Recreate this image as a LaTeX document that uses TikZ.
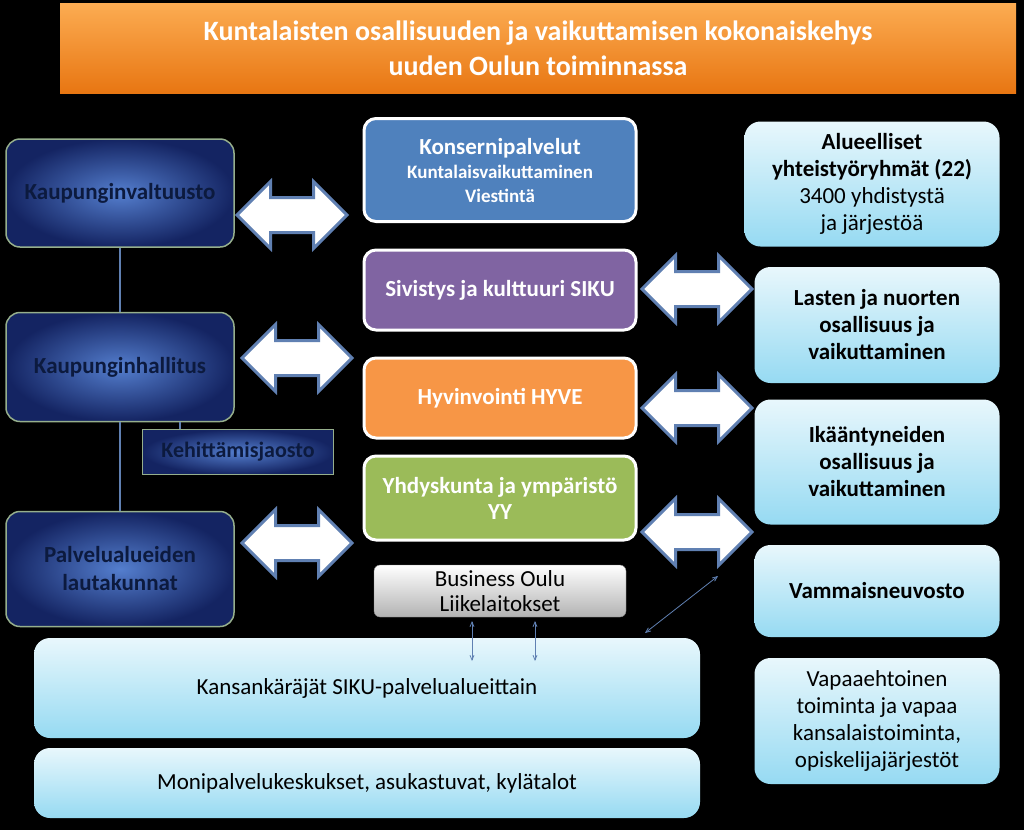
\documentclass[tikz,border=0pt]{standalone}
\usepackage{fontspec}
\setmainfont{Carlito}
\usepackage{tikz}
\usetikzlibrary{%
  arrows
 ,calc
 ,shapes.arrows
}
\definecolor{navytext}{RGB}{12,26,62}
\definecolor{navyin}{RGB}{84,126,206}
\definecolor{navyout}{RGB}{20,36,98}
\definecolor{navyedge}{RGB}{150,175,140}
\definecolor{skytop}{RGB}{232,247,252}
\definecolor{skybot}{RGB}{150,218,242}
\definecolor{arrline}{RGB}{96,128,178}
\definecolor{konblue}{RGB}{79,129,189}
\definecolor{sikupurple}{RGB}{128,100,162}
\definecolor{hyveorange}{RGB}{247,150,70}
\definecolor{yygreen}{RGB}{155,187,89}
\definecolor{titletop}{RGB}{252,172,82}
\definecolor{titlebot}{RGB}{232,118,18}
\tikzstyle{dia}=[x=1pt,y=-1pt,inner sep=0pt,align=center]
\tikzstyle{titlebox}=[top color=titletop,bottom color=titlebot,minimum width=956pt,minimum height=90pt,text=white,font=\bfseries\fontsize{28}{35}\selectfont]
\tikzstyle{hall}=[rounded corners=14pt,draw=navyedge,line width=1.5pt,inner color=navyin,outer color=navyout,minimum width=228pt,text=navytext,font=\bfseries\fontsize{23}{28}\selectfont]
\tikzstyle{toimi}=[rounded corners=12pt,draw=white,line width=3pt,minimum width=272pt,text=white,font=\bfseries\fontsize{23}{26}\selectfont]
\tikzstyle{sky}=[rounded corners=16pt,top color=skytop,bottom color=skybot,text=black,font=\fontsize{23}{27}\selectfont]
\tikzstyle{dbl}=[double arrow,draw=arrline,line width=3pt,fill=white,minimum height=110pt,inner xsep=0pt,inner ysep=16pt,double arrow head extend=16pt]
\tikzstyle{conn}=[draw=arrline,line width=2pt]
\tikzstyle{ohut}=[draw=arrline,line width=0.8pt,<->,>=angle 45]

\begin{document}
\begin{tikzpicture}[dia]
  \useasboundingbox (0,0) rectangle (1024,830);
  \fill[black] (0,0) rectangle (1024,830);
  \node[titlebox] (otsikko) at (538,48) {Kuntalaisten osallisuuden ja vaikuttamisen kokonaiskehys\\uuden Oulun toiminnassa};
% hallinto
  \node[hall,minimum height=108pt] (valtuusto) at (120,193) {Kaupunginvaltuusto};
  \node[hall,minimum height=109pt] (hallitus) at (120,367) {Kaupunginhallitus};
  \node[hall,rounded corners=0pt,minimum width=191pt,minimum height=45pt,font=\bfseries\fontsize{22}{24}\selectfont] (jaosto) at (238,452) {Kehittämisjaosto};
  \node[hall,minimum height=115pt] (lautakunnat) at (120,569) {Palvelualueiden\\lautakunnat};
  \coordinate (jaostoliitos) at (180,422);
  \draw[conn] (valtuusto.south) -- (hallitus.north);
  \draw[conn] (hallitus.south) -- (lautakunnat.north);
  \draw[conn] (jaostoliitos) -- (jaostoliitos |- jaosto.north);
% palvelualueet
  \node[toimi,fill=konblue,minimum height=103pt,font=\bfseries\fontsize{23}{24}\selectfont] (konserni) at (500,170) {Konsernipalvelut\\{\fontsize{19}{24}\selectfont Kuntalaisvaikuttaminen}\\{\fontsize{19}{24}\selectfont Viestintä}};
  \node[toimi,fill=sikupurple,minimum height=80pt] (siku) at (500,290) {Sivistys ja kulttuuri SIKU};
  \node[toimi,fill=hyveorange,minimum height=80pt] (hyve) at (500,398) {Hyvinvointi HYVE};
  \node[toimi,fill=yygreen,minimum height=84pt] (yy) at (500,498) {Yhdyskunta ja ympäristö\\YY};
  \node[rounded corners=6pt,draw=gray,top color=white,bottom color=black!30,minimum width=252pt,minimum height=52pt,font=\fontsize{23}{25}\selectfont] (business) at (500,591) {Business Oulu\\Liikelaitokset};
% kuntalaiset
  \node[sky,minimum width=255pt,minimum height=125pt] (alueelliset) at (872,184) {\textbf{Alueelliset}\\\textbf{yhteistyöryhmät (22)}\\3400 yhdistystä\\ja järjestöä};
  \node[sky,minimum width=245pt,minimum height=116pt,font=\bfseries\fontsize{23}{27}\selectfont] (lapset) at (877,325) {Lasten ja nuorten\\osallisuus ja\\vaikuttaminen};
  \node[sky,minimum width=245pt,minimum height=125pt,font=\bfseries\fontsize{23}{27}\selectfont] (ikaantyneet) at (877,462) {Ikääntyneiden\\osallisuus ja\\vaikuttaminen};
  \node[sky,minimum width=245pt,minimum height=92pt,font=\bfseries\fontsize{23}{27}\selectfont] (vammais) at (877,591) {Vammaisneuvosto};
  \node[sky,minimum width=245pt,minimum height=126pt,font=\fontsize{23}{27}\selectfont] (vapaa) at (877,721) {Vapaaehtoinen\\toiminta ja vapaa\\kansalaistoiminta,\\opiskelijajärjestöt};
  \node[sky,minimum width=666pt,minimum height=100pt,font=\fontsize{23}{24}\selectfont] (karajat) at (367,688) {Kansankäräjät SIKU-palvelualueittain};
  \node[sky,minimum width=666pt,minimum height=70pt,font=\fontsize{23}{24}\selectfont] (moni) at (367,783) {Monipalvelukeskukset, asukastuvat, kylätalot};
% nuolet
  \node[dbl] (n1) at (292,215) {};
  \node[dbl] (n2) at (297,358) {};
  \node[dbl] (n3) at (297,543) {};
  \node[dbl] (n4) at (697,289) {};
  \node[dbl] (n5) at (697,408) {};
  \node[dbl] (n6) at (697,532) {};
  \coordinate (b1) at (472,621);
  \coordinate (b2) at (535,621);
  \coordinate (k1) at (472,661);
  \coordinate (k2) at (535,661);
  \coordinate (kk) at (645,633);
  \coordinate (nn) at (718,576);
  \draw[ohut] (b1) -- (k1);
  \draw[ohut] (b2) -- (k2);
  \draw[ohut] (kk) -- (nn);
\end{tikzpicture}
\end{document}
